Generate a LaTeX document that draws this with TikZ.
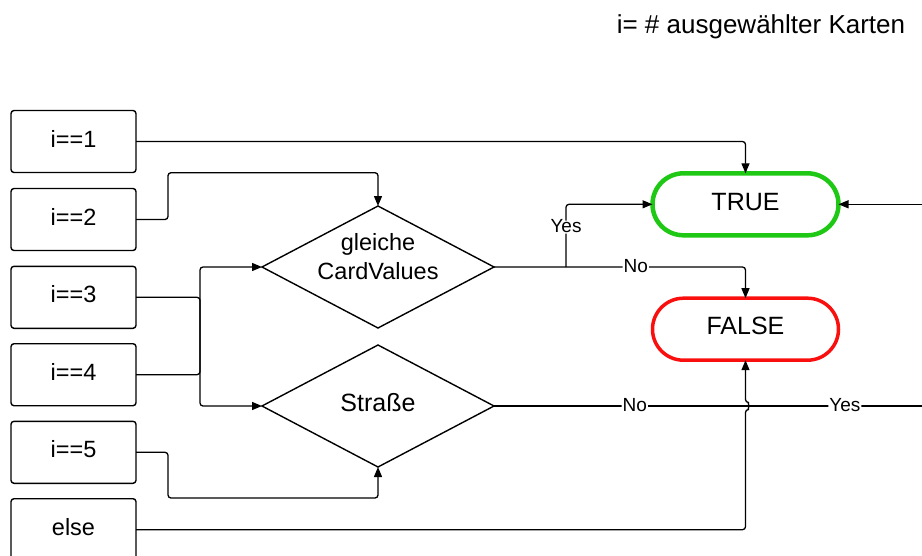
\documentclass[tikz,border=0pt]{standalone}
\usepackage{fontspec}
\setmainfont{Liberation Sans}
\usetikzlibrary{arrows.meta,shapes.geometric}
\definecolor{okgreen}{RGB}{30,200,20}
\definecolor{badred}{RGB}{250,15,15}
\begin{document}
\begin{tikzpicture}[x=1pt,y=-1pt,
  every node/.style={inner sep=0pt, outer sep=0pt},
  casebox/.style={draw, line width=1.4pt, rounded corners=3pt,
    minimum width=125pt, minimum height=62pt,
    text height=11pt, text depth=0pt,
    font=\fontsize{23.5}{28}\selectfont},
  decision/.style={draw, diamond, line width=1.4pt, aspect=1.9,
    minimum width=232pt, minimum height=122pt},
  endpoint/.style={draw, rectangle, rounded corners=31pt,
    minimum width=186pt, minimum height=62pt,
    text height=11.4pt, text depth=0pt,
    font=\fontsize{25}{30}\selectfont},
  conn/.style={line width=1.3pt, rounded corners=3pt},
  arr/.style={conn, -{Triangle[length=10pt,width=8pt]}},
  lbl/.style={fill=white, inner sep=1pt, text height=11pt, text depth=0pt,
    font=\fontsize{19}{22}\selectfont}]
\useasboundingbox (0,0) rectangle (922,555);

% heading
\node[anchor=base, font=\fontsize{26}{30}\selectfont] (heading) at (761,33.5)
  {i= \# ausgewählter Karten};

% cases on the left
\node[casebox] (b1) at (73.5,141.5) {i==1};
\node[casebox] (b2) at (73.5,219.5) {i==2};
\node[casebox] (b3) at (73.5,297.3) {i==3};
\node[casebox] (b4) at (73.5,374.7) {i==4};
\node[casebox] (b5) at (73.5,452.3) {i==5};
\node[casebox] (b6) at (73.5,529.7) {else};

% decisions
\node[decision, text height=24pt, text depth=0pt,
  font=\fontsize{23.5}{29}\selectfont] (d1) at (378,267)
  {\parbox[b]{140pt}{\centering gleiche\\CardValues}};
\node[decision, text height=11.4pt, text depth=0pt,
  font=\fontsize{25}{30}\selectfont] (d2) at (378,406) {Straße};

% results
\node[endpoint, draw=okgreen, line width=4.5pt] (true) at (745.5,204.3) {TRUE};
\node[endpoint, draw=badred, line width=3.5pt] (false) at (745.5,329.2) {FALSE};

% routing points
\coordinate (j2) at (168,172.7);
\coordinate (jt) at (200,267);
\coordinate (jb) at (200,406);
\coordinate (j5) at (168,498);
\coordinate (hop) at (745.5,409.5);
\coordinate (y1) at (566,267);
\coordinate (edgeA) at (922,204.3);
\coordinate (edgeB) at (922,406);

% connectors
\draw[arr] (b1.east) -| (true.north);
\draw[arr] (b2.east) -| (j2) -| (d1.north);
\draw[arr] (b3.east) -| (jb) -- (d2.west);
\draw[arr] (b4.east) -| (jt) -- (d1.west);
\draw[arr] (b5.east) -| (j5) -| (d2.south);
\draw[arr] (b6.east) -| (hop)
  arc[start angle=90, end angle=-90, radius=3.5] -- (false.south);

\draw[arr] (y1) |- (true.west) node[lbl, pos=0.319] {Yes};
\draw[arr] (d1.east) -| (false.north) node[lbl, pos=0.282] {No};
\draw[conn] (d2.east) -- (edgeB)
  node[lbl, pos=0.329] {No}
  node[lbl, pos=0.82] {Yes};
\draw[arr] (edgeA) -- (true.east);
\end{tikzpicture}
\end{document}
